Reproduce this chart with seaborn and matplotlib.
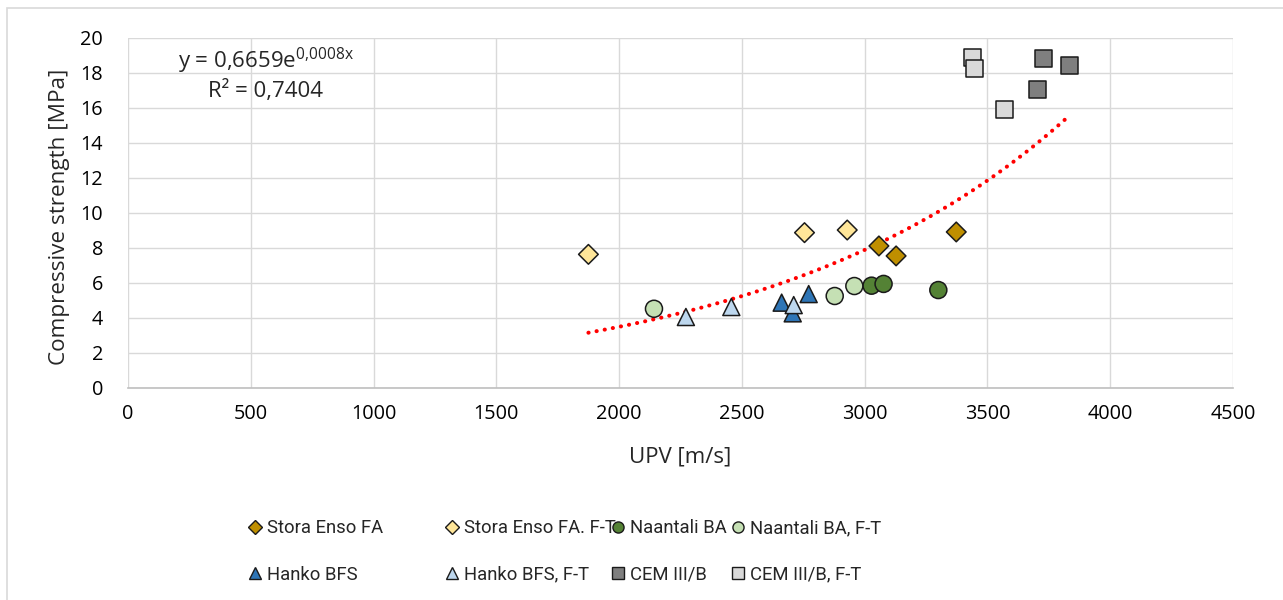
import numpy as np
import pandas as pd
import matplotlib
matplotlib.use("Agg")
import matplotlib.pyplot as plt
from matplotlib.lines import Line2D
from matplotlib.patches import Rectangle
import seaborn as sns

# ---- data ----
series_names = ["Stora Enso FA", "Stora Enso FA. F-T", "Naantali BA", "Naantali BA, F-T",
                "Hanko BFS", "Hanko BFS, F-T", "CEM III/B", "CEM III/B, F-T"]

stora_upv = [3058, 3128, 3373]
stora_cs = [8.10, 7.53, 8.90]
stora_ft_upv = [1875, 2755, 2929]
stora_ft_cs = [7.62, 8.86, 9.01]
naantali_upv = [3028, 3077, 3300]
naantali_cs = [5.83, 5.93, 5.58]
naantali_ft_upv = [2142, 2878, 2958]
naantali_ft_cs = [4.51, 5.24, 5.81]
hanko_upv = [2662, 2707, 2772]
hanko_cs = [4.86, 4.25, 5.35]
hanko_ft_upv = [2272, 2457, 2711]
hanko_ft_cs = [4.04, 4.61, 4.72]
cem_upv = [3729, 3834, 3705]
cem_cs = [18.82, 18.40, 17.03]
cem_ft_upv = [3439, 3446, 3571]
cem_ft_cs = [18.86, 18.25, 15.91]

x_ticks = [0, 500, 1000, 1500, 2000, 2500, 3000, 3500, 4000, 4500]
y_ticks = [0, 2, 4, 6, 8, 10, 12, 14, 16, 18, 20]

all_upv = [stora_upv, stora_ft_upv, naantali_upv, naantali_ft_upv,
           hanko_upv, hanko_ft_upv, cem_upv, cem_ft_upv]
all_cs = [stora_cs, stora_ft_cs, naantali_cs, naantali_ft_cs,
          hanko_cs, hanko_ft_cs, cem_cs, cem_ft_cs]

rows = []
for name, xs, ys in zip(series_names, all_upv, all_cs):
    for xv, yv in zip(xs, ys):
        rows.append({"series": name, "UPV": xv, "CS": yv})
df = pd.DataFrame(rows)

palette = {
    "Stora Enso FA": "#BF8F00", "Stora Enso FA. F-T": "#FFE699",
    "Naantali BA": "#548235", "Naantali BA, F-T": "#C5E0B4",
    "Hanko BFS": "#2E75B6", "Hanko BFS, F-T": "#BDD7EE",
    "CEM III/B": "#7F7F7F", "CEM III/B, F-T": "#D9D9D9",
}
markers = {
    "Stora Enso FA": "D", "Stora Enso FA. F-T": "D",
    "Naantali BA": "o", "Naantali BA, F-T": "o",
    "Hanko BFS": "^", "Hanko BFS, F-T": "^",
    "CEM III/B": "s", "CEM III/B, F-T": "s",
}
sizes = {"D": 100, "o": 150, "^": 150, "s": 150}

sns.set_theme(style="white")
plt.rcParams['font.family'] = ['Open Sans', 'DejaVu Sans']
plt.rcParams['mathtext.default'] = 'regular'

fig = plt.figure(figsize=(12.83, 6.0), dpi=100)
ax = fig.add_axes([128/1283, 1-387.7/600, (1233-128)/1283, 350/600])

for mk in ["D", "o", "^", "s"]:
    sub = df[df["series"].map(markers) == mk]
    sns.scatterplot(data=sub, x="UPV", y="CS", hue="series",
                    palette={k: v for k, v in palette.items() if markers[k] == mk},
                    marker=mk, s=sizes[mk], edgecolor="#1a1a1a",
                    linewidth=1.1, legend=False, ax=ax, zorder=3)

# exponential trendline fitted to all points
X = df["UPV"].to_numpy(float)
Y = df["CS"].to_numpy(float)
k, lna = np.polyfit(X, np.log(Y), 1)
xs = np.linspace(X.min(), X.max(), 200)
ax.plot(xs, np.exp(lna) * np.exp(k * xs), color="#FF0000", lw=2.9,
        linestyle=(0, (0.05, 2.0)), dash_capstyle="round", zorder=2)

ax.set_xlim(0, 4500)
ax.set_ylim(0, 20)
ax.set_xticks(x_ticks)
ax.set_yticks(y_ticks)
ax.grid(True, color="#D9D9D9", lw=1.0)
ax.set_axisbelow(True)
for s in ["top", "right", "left"]:
    ax.spines[s].set_visible(False)
ax.spines["bottom"].set_color("#BFBFBF")
ax.spines["bottom"].set_linewidth(1.2)
ax.tick_params(axis="both", labelsize=14.3, colors="#000000", length=0)
ax.tick_params(axis="y", pad=18)
ax.tick_params(axis="x", pad=12)
ax.set_xlabel("UPV [m/s]", fontsize=16)
ax.set_ylabel("Compressive strength [MPa]", fontsize=16.2)
ax.xaxis.set_label_coords(0.5, -(457-387.7)/350, transform=ax.transAxes)
ax.xaxis.label.set_va("center")
ax.yaxis.set_label_coords((60-128)/1105, (387.7-217)/350, transform=ax.transAxes)
ax.yaxis.label.set_va("center")

ax.text(0.125, 0.934, r"y = 0,6659e$^{0{,}0008x}$", transform=ax.transAxes,
        ha="center", va="center", fontsize=16)
ax.text(0.124, 0.847, "R² = 0,7404", transform=ax.transAxes,
        ha="center", va="center", fontsize=16)

# legend: 4 columns, 2 rows
col_x = [249, 446, 612, 732]
for c in range(4):
    handles = []
    for r in range(2):
        name = series_names[r * 4 + c]
        handles.append(Line2D([], [], linestyle="none", marker=markers[name],
                              markersize=8 if markers[name] != "D" else 7,
                              markerfacecolor=palette[name],
                              markeredgecolor="#1a1a1a", markeredgewidth=1.0,
                              label=name))
    fig.legend(handles=handles, loc="upper left",
               bbox_to_anchor=(col_x[c]/1283, 1-519/600), frameon=False,
               prop={"family": ["Roboto", "DejaVu Sans"], "size": 13.3},
               handlelength=0.7, handletextpad=0.3,
               labelspacing=1.55, borderpad=0, borderaxespad=0)

fig.patches.append(Rectangle((7/1283, -0.02), 1.05, 1-8/600+0.02, transform=fig.transFigure,
                             fill=False, edgecolor="#D9D9D9", lw=1.2))

fig.savefig("out.png", dpi=100)
